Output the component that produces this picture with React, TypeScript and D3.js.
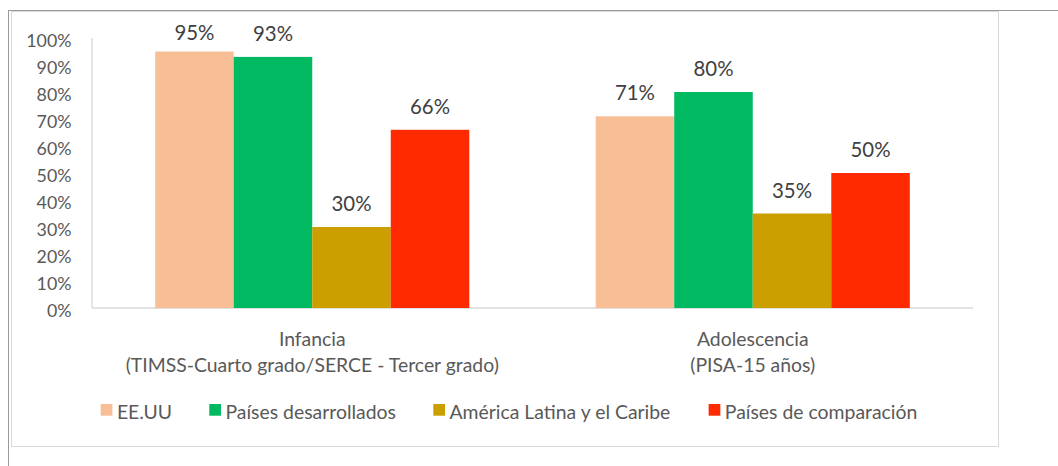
import React from 'react';
import * as d3 from 'd3';

const categoryLines: string[][] = [
  ['Infancia', '(TIMSS-Cuarto grado/SERCE - Tercer grado)'],
  ['Adolescencia', '(PISA-15 años)'],
];
const seriesNames = ['EE.UU', 'Países desarrollados', 'América Latina y el Caribe', 'Países de comparación'];
const eeuu = [0.95, 0.71];
const desarrollados = [0.93, 0.8];
const americaLatina = [0.3, 0.35];
const comparacion = [0.66, 0.5];
const yTicks = [0, 0.1, 0.2, 0.3, 0.4, 0.5, 0.6, 0.7, 0.8, 0.9, 1.0];
const seriesColors = ['#F8BF97', '#00B961', '#CC9F00', '#FF2A00'];

const W = 1058;
const H = 466;
const FONT = "Lato, 'Open Sans', sans-serif";

function measure(text: string, size: number): number {
  if (typeof document === 'undefined') return text.length * size * 0.5;
  const c = document.createElement('canvas');
  const ctx = c.getContext('2d')!;
  ctx.font = `${size}px Lato`;
  return ctx.measureText(text).width;
}

export default function App() {
  const series = [eeuu, desarrollados, americaLatina, comparacion];
  const plotL = 92, plotR = 973, plotT = 38, plotB = 308;
  const x0 = d3.scaleBand<number>().domain(categoryLines.map((_, i) => i)).range([plotL, plotR]).padding(0);
  const x1 = d3.scaleBand<number>().domain(seriesNames.map((_, i) => i)).range([0, x0.bandwidth()]).paddingInner(0).paddingOuter(0.805);
  const y = d3.scaleLinear().domain([0, 1]).range([plotB, plotT]);
  const pct = d3.format('.0%');

  const textSize = 19.4;
  const sq = 11.7, sqGap = 4.5, itemGap = 37.3;
  const widths = seriesNames.map((s) => measure(s, textSize));
  const total = widths.reduce((a, w) => a + sq + sqGap + w, 0) + itemGap * (seriesNames.length - 1);
  let lx = 509 - total / 2;
  const legendItems = seriesNames.map((s, i) => {
    const item = { x: lx, name: s, color: seriesColors[i] };
    lx += sq + sqGap + widths[i] + itemGap;
    return item;
  });

  return (
    <svg width={W} height={H} style={{ position: 'absolute', left: 0, top: 0, background: '#fff' }} fontFamily={FONT}>
      <rect x={0} y={0} width={W} height={H} fill="#fff" />
      <line x1={8} x2={W} y1={10.5} y2={10.5} stroke="#9a9a9a" />
      <line x1={8.5} x2={8.5} y1={10} y2={H} stroke="#9a9a9a" />
      <rect x={11.5} y={11.5} width={987} height={435} fill="#fff" stroke="#d9d9d9" />

      {/* axes */}
      <line x1={plotL} x2={plotL} y1={plotT} y2={plotB} stroke="#d9d9d9" strokeWidth={1.3} />
      <line x1={plotL} x2={plotR} y1={plotB} y2={plotB} stroke="#d9d9d9" strokeWidth={1.3} />
      {yTicks.map((t) => (
        <text key={t} x={71.5} y={y(t) + 8.5} textAnchor="end" fontSize={17.8} fill="#595959">
          {pct(t)}
        </text>
      ))}

      {/* bars */}
      {categoryLines.map((_, ci) => (
        <g key={ci} transform={`translate(${x0(ci)},0)`}>
          {series.map((vals, si) => (
            <rect key={si} x={x1(si)} y={y(vals[ci])} width={x1.bandwidth()} height={plotB - y(vals[ci])} fill={seriesColors[si]} />
          ))}
          {series.map((vals, si) => (
            <text key={'l' + si} x={(x1(si) as number) + x1.bandwidth() / 2} y={Math.max(y(vals[ci]) - 16, 40)} textAnchor="middle" fontSize={20.4} fill="#404040">
              {pct(vals[ci])}
            </text>
          ))}
        </g>
      ))}

      {/* category labels */}
      {categoryLines.map((lines, ci) => (
        <g key={'c' + ci}>
          {lines.map((ln, li) => (
            <text key={li} x={(x0(ci) as number) + x0.bandwidth() / 2} y={346 + li * 26} textAnchor="middle" fontSize={textSize} fill="#595959">
              {ln}
            </text>
          ))}
        </g>
      ))}

      {/* legend */}
      {legendItems.map((it) => (
        <g key={it.name}>
          <rect x={it.x} y={404} width={sq} height={sq} fill={it.color} />
          <text x={it.x + sq + sqGap} y={419.3} fontSize={textSize} fill="#595959">
            {it.name}
          </text>
        </g>
      ))}
    </svg>
  );
}
